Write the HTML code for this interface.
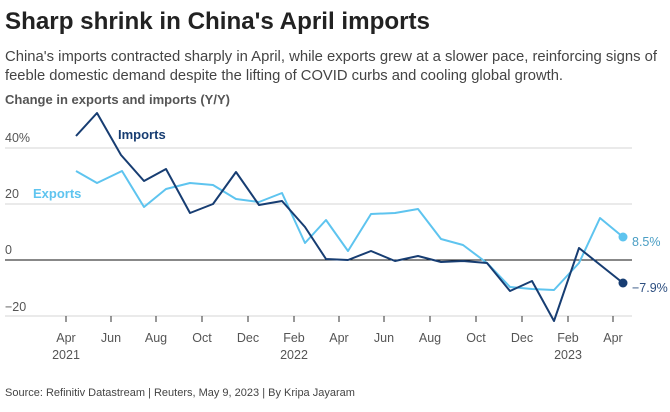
<!DOCTYPE html>
<html><head><meta charset="utf-8"><style>
body{margin:0;background:#fff;width:670px;height:407px;overflow:hidden;font-family:"Liberation Sans",sans-serif}
</style></head><body>
<svg width="670" height="407" xmlns="http://www.w3.org/2000/svg" font-family="Liberation Sans, sans-serif">
<text x="5" y="29" font-size="24" font-weight="bold" fill="#222" textLength="425" lengthAdjust="spacingAndGlyphs">Sharp shrink in China's April imports</text>
<text x="5" y="61" font-size="15" fill="#444" textLength="652" lengthAdjust="spacingAndGlyphs">China's imports contracted sharply in April, while exports grew at a slower pace, reinforcing signs of</text>
<text x="5" y="80" font-size="15" fill="#444" textLength="558" lengthAdjust="spacingAndGlyphs">feeble domestic demand despite the lifting of COVID curbs and cooling global growth.</text>
<text x="5" y="104" font-size="13" font-weight="bold" fill="#555" textLength="225" lengthAdjust="spacingAndGlyphs">Change in exports and imports (Y/Y)</text>
<g stroke="#ddd" stroke-width="1.2">
<line x1="5" y1="148" x2="632" y2="148"/><line x1="5" y1="204" x2="632" y2="204"/><line x1="5" y1="316" x2="632" y2="316"/>
</g>
<line x1="5" y1="260" x2="632" y2="260" stroke="#111" stroke-width="1"/>
<g font-size="12.5" fill="#555">
<text x="5" y="142">40%</text><text x="5" y="198">20</text><text x="5" y="254">0</text><text x="5" y="311">−20</text>
</g>
<g stroke="#333" stroke-width="1">
<line x1="66" y1="316" x2="66" y2="322"/><line x1="111" y1="316" x2="111" y2="322"/><line x1="156" y1="316" x2="156" y2="322"/><line x1="202" y1="316" x2="202" y2="322"/><line x1="248" y1="316" x2="248" y2="322"/><line x1="294" y1="316" x2="294" y2="322"/><line x1="339" y1="316" x2="339" y2="322"/><line x1="384" y1="316" x2="384" y2="322"/><line x1="430" y1="316" x2="430" y2="322"/><line x1="476" y1="316" x2="476" y2="322"/><line x1="522" y1="316" x2="522" y2="322"/><line x1="568" y1="316" x2="568" y2="322"/><line x1="613" y1="316" x2="613" y2="322"/>
</g>
<g font-size="12.5" fill="#555" text-anchor="middle">
<text x="66" y="342">Apr</text><text x="111" y="342">Jun</text><text x="156" y="342">Aug</text><text x="202" y="342">Oct</text><text x="248" y="342">Dec</text><text x="294" y="342">Feb</text><text x="339" y="342">Apr</text><text x="384" y="342">Jun</text><text x="430" y="342">Aug</text><text x="476" y="342">Oct</text><text x="522" y="342">Dec</text><text x="568" y="342">Feb</text><text x="613" y="342">Apr</text>
<text x="66" y="359">2021</text><text x="294" y="359">2022</text><text x="568" y="359">2023</text>
</g>
<polyline fill="none" stroke="#5ec4ef" stroke-width="2" stroke-linejoin="round" points="76,171 97,183 122,171 144,207 166,189 190,183 213,185 236,199 259,202 282,193 305,243 326,220 348,251 371,214 395,213 418,209 441,239 463,245 487,263 510,287 532,289 554,290 579,263 600,218 623,237"/>
<polyline fill="none" stroke="#173d72" stroke-width="2" stroke-linejoin="round" points="76,136 97,113 121,155 144,181 166,169 190,213 213,204 236,172 259,205 282,201 305,227 326,259 348,260 371,251 395,261 418,256 441,262 463,261 487,263 510,291 532,281 554,321 579,248 623,283"/>
<circle cx="623" cy="237" r="4.5" fill="#5ec4ef"/>
<circle cx="623" cy="283" r="4.5" fill="#173d72"/>
<text x="632" y="246" font-size="12.5" fill="#4a9ec4">8.5%</text>
<text x="632" y="292" font-size="12.5" fill="#2d4f80">−7.9%</text>
<text x="118" y="139" font-size="13" font-weight="bold" fill="#173d72">Imports</text>
<text x="33" y="198" font-size="13" font-weight="bold" fill="#5ec4ef">Exports</text>
<text x="5" y="396" font-size="11" fill="#444">Source: Refinitiv Datastream | Reuters, May 9, 2023 | By Kripa Jayaram</text>
</svg>
</body></html>
